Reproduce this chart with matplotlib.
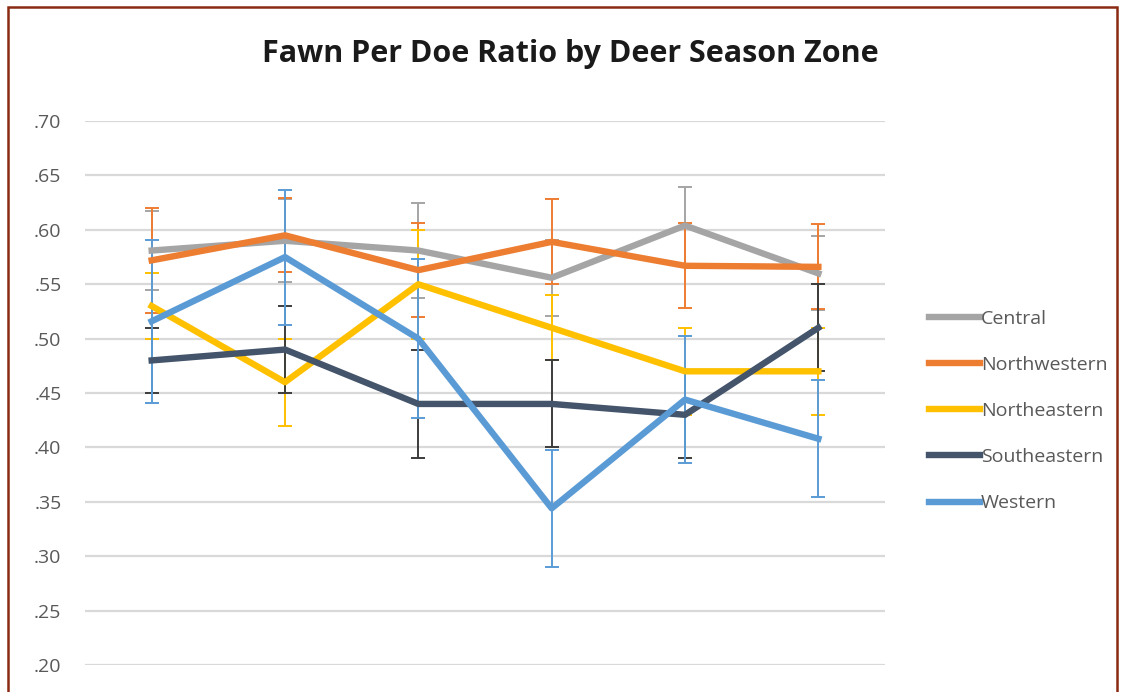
import numpy as np
import matplotlib.pyplot as plt
from matplotlib.patches import Rectangle
from matplotlib.lines import Line2D

plt.rcParams['font.family'] = ['Open Sans', 'DejaVu Sans']

periods = ["1", "2", "3", "4", "5", "6"]
zones = ["Central", "Northwestern", "Northeastern", "Southeastern", "Western"]

central = [0.581, 0.590, 0.581, 0.556, 0.604, 0.560]
central_err = [0.036, 0.038, 0.044, 0.035, 0.035, 0.034]
northwestern = [0.572, 0.595, 0.563, 0.589, 0.567, 0.566]
northwestern_err = [0.048, 0.034, 0.043, 0.039, 0.039, 0.039]
northeastern = [0.530, 0.460, 0.550, 0.510, 0.470, 0.470]
northeastern_err = [0.030, 0.040, 0.050, 0.030, 0.040, 0.040]
southeastern = [0.480, 0.490, 0.440, 0.440, 0.430, 0.510]
southeastern_err = [0.030, 0.040, 0.050, 0.040, 0.040, 0.040]
western = [0.516, 0.575, 0.500, 0.344, 0.444, 0.408]
western_err = [0.075, 0.062, 0.073, 0.054, 0.058, 0.054]

yticks = [0.20, 0.25, 0.30, 0.35, 0.40, 0.45, 0.50, 0.55, 0.60, 0.65, 0.70]

series = [central, northwestern, northeastern, southeastern, western]
errs = [central_err, northwestern_err, northeastern_err, southeastern_err, western_err]
colors = ["#A5A5A5", "#ED7D31", "#FFC000", "#44546A", "#5B9BD5"]
ecolors = ["#A5A5A5", "#ED7D31", "#FFC000", "#3C3C3C", "#5B9BD5"]

fig = plt.figure(figsize=(11.23, 6.92), dpi=100)
ax = fig.add_axes([0.0757, 0.039, 0.7124, 0.786])

x = np.arange(len(periods))
for vals, err, c, ec in zip(series, errs, colors, ecolors):
    ax.errorbar(x, vals, yerr=err, color=c, ecolor=ec, lw=4.6, elinewidth=1.4,
                capsize=5, capthick=1.4)

ax.set_xlim(-0.5, len(periods) - 0.5)
ax.set_ylim(0.2, 0.7)
ax.set_yticks(yticks)
ax.set_yticklabels([f"{t:.2f}"[1:] for t in yticks])
ax.set_xticks([])
ax.grid(axis='y', color='#D9D9D9', lw=1.6)
ax.set_axisbelow(True)
ax.tick_params(axis='y', length=0, pad=17, labelsize=14, labelcolor='#595959')
for s in ax.spines.values():
    s.set_visible(False)

handles = [Line2D([], [], color=c, lw=4.6) for c in colors]
ax.legend(handles, zones, loc='center left', bbox_to_anchor=(0.812, 0.406),
          bbox_transform=fig.transFigure, frameon=False, handlelength=2.6,
          handletextpad=0.05, labelspacing=1.45, fontsize=14, labelcolor='#595959')

fig.text(0.508, 0.922, "Fawn Per Doe Ratio by Deer Season Zone", ha='center', va='center',
         fontsize=22, fontweight='bold', color='#1a1a1a')

fig.patches.append(Rectangle((8 / 1123, -0.1), 1109 / 1123, 1.09, transform=fig.transFigure,
                             fill=False, ec='#8B2A12', lw=1.8))

fig.savefig("out.png", dpi=100)
